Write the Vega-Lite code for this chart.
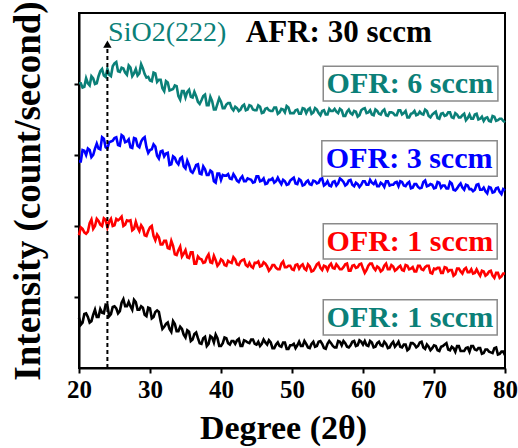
{
"$schema": "https://vega.github.io/schema/vega-lite/v6.json",
"width": 426, "height": 355,
"autosize": {"type": "none"},
"padding": {"left": 79, "top": 13, "right": 13, "bottom": 80},
"config": {"view": {"stroke": "black", "strokeWidth": 2}, "font": "serif"},
"datasets": {
"teal": [
{"x":20,"y":4.01},{"x":20.5,"y":3.95},{"x":21,"y":4.08},{"x":21.5,"y":3.98},{"x":22,"y":4.08},{"x":22.5,"y":4.01},{"x":23,"y":4.18},{"x":23.5,"y":4.12},{"x":24,"y":4.21},{"x":24.5,"y":4.11},
{"x":25,"y":4.29},{"x":25.5,"y":4.18},{"x":26,"y":4.23},{"x":26.5,"y":4.16},{"x":27,"y":4.26},{"x":27.5,"y":4.11},{"x":28,"y":4.21},{"x":28.5,"y":4.15},{"x":29,"y":4.22},{"x":29.5,"y":4.09},
{"x":30,"y":4.05},{"x":30.5,"y":4.16},{"x":31,"y":4.03},{"x":31.5,"y":4.06},{"x":32,"y":3.90},{"x":32.5,"y":4.02},{"x":33,"y":3.92},{"x":33.5,"y":3.98},{"x":34,"y":3.83},{"x":34.5,"y":3.90},
{"x":35,"y":3.81},{"x":35.5,"y":3.92},{"x":36,"y":3.81},{"x":36.5,"y":3.83},{"x":37,"y":3.72},{"x":37.5,"y":3.83},{"x":38,"y":3.70},{"x":38.5,"y":3.82},{"x":39,"y":3.64},{"x":39.5,"y":3.72},
{"x":40,"y":3.75},{"x":40.5,"y":3.66},{"x":41,"y":3.73},{"x":41.5,"y":3.66},{"x":42,"y":3.68},{"x":42.5,"y":3.62},{"x":43,"y":3.69},{"x":43.5,"y":3.63},{"x":44,"y":3.70},{"x":44.5,"y":3.64},
{"x":45,"y":3.63},{"x":45.5,"y":3.68},{"x":46,"y":3.60},{"x":46.5,"y":3.66},{"x":47,"y":3.62},{"x":47.5,"y":3.67},{"x":48,"y":3.58},{"x":48.5,"y":3.65},{"x":49,"y":3.60},{"x":49.5,"y":3.67},
{"x":50,"y":3.59},{"x":50.5,"y":3.63},{"x":51,"y":3.58},{"x":51.5,"y":3.66},{"x":52,"y":3.59},{"x":52.5,"y":3.66},{"x":53,"y":3.60},{"x":53.5,"y":3.64},{"x":54,"y":3.56},{"x":54.5,"y":3.63},
{"x":55,"y":3.57},{"x":55.5,"y":3.62},{"x":56,"y":3.65},{"x":56.5,"y":3.59},{"x":57,"y":3.63},{"x":57.5,"y":3.55},{"x":58,"y":3.64},{"x":58.5,"y":3.57},{"x":59,"y":3.61},{"x":59.5,"y":3.56},
{"x":60,"y":3.65},{"x":60.5,"y":3.59},{"x":61,"y":3.63},{"x":61.5,"y":3.56},{"x":62,"y":3.62},{"x":62.5,"y":3.57},{"x":63,"y":3.64},{"x":63.5,"y":3.55},{"x":64,"y":3.60},{"x":64.5,"y":3.56},
{"x":65,"y":3.63},{"x":65.5,"y":3.57},{"x":66,"y":3.62},{"x":66.5,"y":3.53},{"x":67,"y":3.59},{"x":67.5,"y":3.56},{"x":68,"y":3.61},{"x":68.5,"y":3.57},{"x":69,"y":3.62},{"x":69.5,"y":3.53},
{"x":70,"y":3.59},{"x":70.5,"y":3.52},{"x":71,"y":3.58},{"x":71.5,"y":3.55},{"x":72,"y":3.60},{"x":72.5,"y":3.53},{"x":73,"y":3.59},{"x":73.5,"y":3.53},{"x":74,"y":3.56},{"x":74.5,"y":3.49},
{"x":75,"y":3.57},{"x":75.5,"y":3.51},{"x":76,"y":3.58},{"x":76.5,"y":3.51},{"x":77,"y":3.48},{"x":77.5,"y":3.53},{"x":78,"y":3.47},{"x":78.5,"y":3.54},{"x":79,"y":3.49},{"x":79.5,"y":3.51},
{"x":80,"y":3.46},
{"x":20.25,"y":4.01},{"x":20.75,"y":3.96},{"x":21.25,"y":4.01},{"x":21.75,"y":4.11},{"x":22.25,"y":4.00},{"x":22.75,"y":4.11},{"x":23.25,"y":4.21},{"x":23.75,"y":4.10},{"x":24.25,"y":4.13},{"x":24.75,"y":4.25},
{"x":25.25,"y":4.31},{"x":25.75,"y":4.17},{"x":26.25,"y":4.22},{"x":26.75,"y":4.13},{"x":27.25,"y":4.23},{"x":27.75,"y":4.15},{"x":28.25,"y":4.12},{"x":28.75,"y":4.28},{"x":29.25,"y":4.14},{"x":29.75,"y":4.10},
{"x":30.25,"y":4.04},{"x":30.75,"y":4.15},{"x":31.25,"y":4.06},{"x":31.75,"y":3.94},{"x":32.25,"y":4.04},{"x":32.75,"y":3.91},{"x":33.25,"y":3.93},{"x":33.75,"y":3.97},{"x":34.25,"y":3.78},{"x":34.75,"y":3.90},
{"x":35.25,"y":3.89},{"x":35.75,"y":3.82},{"x":36.25,"y":3.89},{"x":36.75,"y":3.75},{"x":37.25,"y":3.77},{"x":37.75,"y":3.85},{"x":38.25,"y":3.70},{"x":38.75,"y":3.76},{"x":39.25,"y":3.64},{"x":39.75,"y":3.80},
{"x":40.25,"y":3.66},{"x":40.75,"y":3.71},{"x":41.25,"y":3.73},{"x":41.75,"y":3.63},{"x":42.25,"y":3.66},{"x":42.75,"y":3.64},{"x":43.25,"y":3.71},{"x":43.75,"y":3.64},{"x":44.25,"y":3.69},{"x":44.75,"y":3.63},
{"x":45.25,"y":3.70},{"x":45.75,"y":3.59},{"x":46.25,"y":3.65},{"x":46.75,"y":3.63},{"x":47.25,"y":3.62},{"x":47.75,"y":3.67},{"x":48.25,"y":3.60},{"x":48.75,"y":3.64},{"x":49.25,"y":3.69},{"x":49.75,"y":3.59},
{"x":50.25,"y":3.59},{"x":50.75,"y":3.64},{"x":51.25,"y":3.58},{"x":51.75,"y":3.65},{"x":52.25,"y":3.64},{"x":52.75,"y":3.58},{"x":53.25,"y":3.66},{"x":53.75,"y":3.59},{"x":54.25,"y":3.62},{"x":54.75,"y":3.57},
{"x":55.25,"y":3.65},{"x":55.75,"y":3.62},{"x":56.25,"y":3.61},{"x":56.75,"y":3.65},{"x":57.25,"y":3.55},{"x":57.75,"y":3.61},{"x":58.25,"y":3.59},{"x":58.75,"y":3.62},{"x":59.25,"y":3.54},{"x":59.75,"y":3.63},
{"x":60.25,"y":3.66},{"x":60.75,"y":3.60},{"x":61.25,"y":3.57},{"x":61.75,"y":3.64},{"x":62.25,"y":3.58},{"x":62.75,"y":3.62},{"x":63.25,"y":3.56},{"x":63.75,"y":3.60},{"x":64.25,"y":3.59},{"x":64.75,"y":3.56},
{"x":65.25,"y":3.63},{"x":65.75,"y":3.59},{"x":66.25,"y":3.53},{"x":66.75,"y":3.58},{"x":67.25,"y":3.62},{"x":67.75,"y":3.57},{"x":68.25,"y":3.58},{"x":68.75,"y":3.64},{"x":69.25,"y":3.55},{"x":69.75,"y":3.57},
{"x":70.25,"y":3.61},{"x":70.75,"y":3.51},{"x":71.25,"y":3.59},{"x":71.75,"y":3.56},{"x":72.25,"y":3.60},{"x":72.75,"y":3.52},{"x":73.25,"y":3.57},{"x":73.75,"y":3.53},{"x":74.25,"y":3.58},{"x":74.75,"y":3.52},
{"x":75.25,"y":3.51},{"x":75.75,"y":3.57},{"x":76.25,"y":3.50},{"x":76.75,"y":3.54},{"x":77.25,"y":3.52},{"x":77.75,"y":3.48},{"x":78.25,"y":3.55},{"x":78.75,"y":3.48},{"x":79.25,"y":3.51},{"x":79.75,"y":3.48}],
"blue": [
{"x":20,"y":2.91},{"x":20.5,"y":3.07},{"x":21,"y":3.00},{"x":21.5,"y":3.07},{"x":22,"y":3.00},{"x":22.5,"y":3.16},{"x":23,"y":3.08},{"x":23.5,"y":3.23},{"x":24,"y":3.09},{"x":24.5,"y":3.19},
{"x":25,"y":3.24},{"x":25.5,"y":3.14},{"x":26,"y":3.28},{"x":26.5,"y":3.18},{"x":27,"y":3.22},{"x":27.5,"y":3.10},{"x":28,"y":3.23},{"x":28.5,"y":3.11},{"x":29,"y":3.23},{"x":29.5,"y":3.11},
{"x":30,"y":3.07},{"x":30.5,"y":3.15},{"x":31,"y":2.99},{"x":31.5,"y":3.05},{"x":32,"y":2.98},{"x":32.5,"y":3.03},{"x":33,"y":2.87},{"x":33.5,"y":2.96},{"x":34,"y":2.87},{"x":34.5,"y":2.97},
{"x":35,"y":2.81},{"x":35.5,"y":2.86},{"x":36,"y":2.75},{"x":36.5,"y":2.86},{"x":37,"y":2.74},{"x":37.5,"y":2.84},{"x":38,"y":2.72},{"x":38.5,"y":2.78},{"x":39,"y":2.63},{"x":39.5,"y":2.74},
{"x":40,"y":2.65},{"x":40.5,"y":2.71},{"x":41,"y":2.73},{"x":41.5,"y":2.66},{"x":42,"y":2.69},{"x":42.5,"y":2.62},{"x":43,"y":2.70},{"x":43.5,"y":2.63},{"x":44,"y":2.66},{"x":44.5,"y":2.61},
{"x":45,"y":2.70},{"x":45.5,"y":2.63},{"x":46,"y":2.67},{"x":46.5,"y":2.60},{"x":47,"y":2.65},{"x":47.5,"y":2.61},{"x":48,"y":2.68},{"x":48.5,"y":2.59},{"x":49,"y":2.63},{"x":49.5,"y":2.59},
{"x":50,"y":2.66},{"x":50.5,"y":2.60},{"x":51,"y":2.66},{"x":51.5,"y":2.57},{"x":52,"y":2.62},{"x":52.5,"y":2.59},{"x":53,"y":2.64},{"x":53.5,"y":2.60},{"x":54,"y":2.66},{"x":54.5,"y":2.57},
{"x":55,"y":2.63},{"x":55.5,"y":2.56},{"x":56,"y":2.63},{"x":56.5,"y":2.60},{"x":57,"y":2.65},{"x":57.5,"y":2.57},{"x":58,"y":2.64},{"x":58.5,"y":2.58},{"x":59,"y":2.61},{"x":59.5,"y":2.55},
{"x":60,"y":2.63},{"x":60.5,"y":2.58},{"x":61,"y":2.65},{"x":61.5,"y":2.59},{"x":62,"y":2.56},{"x":62.5,"y":2.61},{"x":63,"y":2.55},{"x":63.5,"y":2.63},{"x":64,"y":2.58},{"x":64.5,"y":2.61},
{"x":65,"y":2.56},{"x":65.5,"y":2.62},{"x":66,"y":2.56},{"x":66.5,"y":2.62},{"x":67,"y":2.54},{"x":67.5,"y":2.59},{"x":68,"y":2.53},{"x":68.5,"y":2.62},{"x":69,"y":2.56},{"x":69.5,"y":2.59},
{"x":70,"y":2.53},{"x":70.5,"y":2.62},{"x":71,"y":2.54},{"x":71.5,"y":2.57},{"x":72,"y":2.53},{"x":72.5,"y":2.60},{"x":73,"y":2.50},{"x":73.5,"y":2.57},{"x":74,"y":2.54},{"x":74.5,"y":2.58},
{"x":75,"y":2.52},{"x":75.5,"y":2.49},{"x":76,"y":2.58},{"x":76.5,"y":2.51},{"x":77,"y":2.54},{"x":77.5,"y":2.46},{"x":78,"y":2.54},{"x":78.5,"y":2.48},{"x":79,"y":2.54},{"x":79.5,"y":2.45},
{"x":80,"y":2.50},
{"x":20.25,"y":2.91},{"x":20.75,"y":3.06},{"x":21.25,"y":3.09},{"x":21.75,"y":2.97},{"x":22.25,"y":3.09},{"x":22.75,"y":3.09},{"x":23.25,"y":3.25},{"x":23.75,"y":3.11},{"x":24.25,"y":3.18},{"x":24.75,"y":3.20},
{"x":25.25,"y":3.25},{"x":25.75,"y":3.13},{"x":26.25,"y":3.26},{"x":26.75,"y":3.19},{"x":27.25,"y":3.11},{"x":27.75,"y":3.24},{"x":28.25,"y":3.13},{"x":28.75,"y":3.19},{"x":29.25,"y":3.25},{"x":29.75,"y":3.03},
{"x":30.25,"y":3.08},{"x":30.75,"y":3.12},{"x":31.25,"y":2.95},{"x":31.75,"y":3.06},{"x":32.25,"y":3.02},{"x":32.75,"y":2.86},{"x":33.25,"y":2.98},{"x":33.75,"y":2.90},{"x":34.25,"y":2.95},{"x":34.75,"y":2.84},
{"x":35.25,"y":2.92},{"x":35.75,"y":2.77},{"x":36.25,"y":2.80},{"x":36.75,"y":2.87},{"x":37.25,"y":2.73},{"x":37.75,"y":2.80},{"x":38.25,"y":2.72},{"x":38.75,"y":2.76},{"x":39.25,"y":2.61},{"x":39.75,"y":2.74},
{"x":40.25,"y":2.72},{"x":40.75,"y":2.71},{"x":41.25,"y":2.67},{"x":41.75,"y":2.73},{"x":42.25,"y":2.64},{"x":42.75,"y":2.67},{"x":43.25,"y":2.63},{"x":43.75,"y":2.67},{"x":44.25,"y":2.65},{"x":44.75,"y":2.62},
{"x":45.25,"y":2.70},{"x":45.75,"y":2.64},{"x":46.25,"y":2.59},{"x":46.75,"y":2.65},{"x":47.25,"y":2.67},{"x":47.75,"y":2.63},{"x":48.25,"y":2.63},{"x":48.75,"y":2.65},{"x":49.25,"y":2.58},{"x":49.75,"y":2.64},
{"x":50.25,"y":2.68},{"x":50.75,"y":2.59},{"x":51.25,"y":2.64},{"x":51.75,"y":2.58},{"x":52.25,"y":2.64},{"x":52.75,"y":2.58},{"x":53.25,"y":2.63},{"x":53.75,"y":2.61},{"x":54.25,"y":2.67},{"x":54.75,"y":2.59},
{"x":55.25,"y":2.57},{"x":55.75,"y":2.62},{"x":56.25,"y":2.57},{"x":56.75,"y":2.67},{"x":57.25,"y":2.62},{"x":57.75,"y":2.59},{"x":58.25,"y":2.65},{"x":58.75,"y":2.56},{"x":59.25,"y":2.59},{"x":59.75,"y":2.58},
{"x":60.25,"y":2.63},{"x":60.75,"y":2.58},{"x":61.25,"y":2.61},{"x":61.75,"y":2.63},{"x":62.25,"y":2.56},{"x":62.75,"y":2.59},{"x":63.25,"y":2.63},{"x":63.75,"y":2.57},{"x":64.25,"y":2.58},{"x":64.75,"y":2.62},
{"x":65.25,"y":2.63},{"x":65.75,"y":2.57},{"x":66.25,"y":2.60},{"x":66.75,"y":2.53},{"x":67.25,"y":2.59},{"x":67.75,"y":2.55},{"x":68.25,"y":2.54},{"x":68.75,"y":2.64},{"x":69.25,"y":2.57},{"x":69.75,"y":2.58},
{"x":70.25,"y":2.54},{"x":70.75,"y":2.61},{"x":71.25,"y":2.57},{"x":71.75,"y":2.53},{"x":72.25,"y":2.62},{"x":72.75,"y":2.51},{"x":73.25,"y":2.53},{"x":73.75,"y":2.60},{"x":74.25,"y":2.51},{"x":74.75,"y":2.57},
{"x":75.25,"y":2.52},{"x":75.75,"y":2.51},{"x":76.25,"y":2.59},{"x":76.75,"y":2.51},{"x":77.25,"y":2.49},{"x":77.75,"y":2.55},{"x":78.25,"y":2.47},{"x":78.75,"y":2.53},{"x":79.25,"y":2.48},{"x":79.75,"y":2.52}],
"red": [
{"x":20,"y":1.87},{"x":20.5,"y":1.96},{"x":21,"y":1.89},{"x":21.5,"y":2.04},{"x":22,"y":1.96},{"x":22.5,"y":2.10},{"x":23,"y":2.02},{"x":23.5,"y":2.11},{"x":24,"y":1.98},{"x":24.5,"y":2.10},
{"x":25,"y":2.01},{"x":25.5,"y":2.08},{"x":26,"y":2.13},{"x":26.5,"y":2.02},{"x":27,"y":2.07},{"x":27.5,"y":1.94},{"x":28,"y":2.06},{"x":28.5,"y":1.93},{"x":29,"y":1.97},{"x":29.5,"y":1.86},
{"x":30,"y":1.98},{"x":30.5,"y":1.86},{"x":31,"y":1.88},{"x":31.5,"y":1.74},{"x":32,"y":1.79},{"x":32.5,"y":1.69},{"x":33,"y":1.79},{"x":33.5,"y":1.60},{"x":34,"y":1.66},{"x":34.5,"y":1.57},
{"x":35,"y":1.66},{"x":35.5,"y":1.55},{"x":36,"y":1.63},{"x":36.5,"y":1.47},{"x":37,"y":1.54},{"x":37.5,"y":1.48},{"x":38,"y":1.56},{"x":38.5,"y":1.49},{"x":39,"y":1.58},{"x":39.5,"y":1.44},
{"x":40,"y":1.53},{"x":40.5,"y":1.45},{"x":41,"y":1.51},{"x":41.5,"y":1.48},{"x":42,"y":1.53},{"x":42.5,"y":1.45},{"x":43,"y":1.52},{"x":43.5,"y":1.45},{"x":44,"y":1.48},{"x":44.5,"y":1.41},
{"x":45,"y":1.48},{"x":45.5,"y":1.43},{"x":46,"y":1.49},{"x":46.5,"y":1.43},{"x":47,"y":1.40},{"x":47.5,"y":1.45},{"x":48,"y":1.39},{"x":48.5,"y":1.47},{"x":49,"y":1.42},{"x":49.5,"y":1.44},
{"x":50,"y":1.39},{"x":50.5,"y":1.45},{"x":51,"y":1.40},{"x":51.5,"y":1.46},{"x":52,"y":1.38},{"x":52.5,"y":1.43},{"x":53,"y":1.37},{"x":53.5,"y":1.46},{"x":54,"y":1.41},{"x":54.5,"y":1.44},
{"x":55,"y":1.38},{"x":55.5,"y":1.47},{"x":56,"y":1.40},{"x":56.5,"y":1.43},{"x":57,"y":1.39},{"x":57.5,"y":1.46},{"x":58,"y":1.37},{"x":58.5,"y":1.44},{"x":59,"y":1.41},{"x":59.5,"y":1.46},
{"x":60,"y":1.40},{"x":60.5,"y":1.38},{"x":61,"y":1.47},{"x":61.5,"y":1.41},{"x":62,"y":1.43},{"x":62.5,"y":1.36},{"x":63,"y":1.44},{"x":63.5,"y":1.39},{"x":64,"y":1.45},{"x":64.5,"y":1.37},
{"x":65,"y":1.42},{"x":65.5,"y":1.38},{"x":66,"y":1.45},{"x":66.5,"y":1.39},{"x":67,"y":1.42},{"x":67.5,"y":1.36},{"x":68,"y":1.44},{"x":68.5,"y":1.38},{"x":69,"y":1.44},{"x":69.5,"y":1.34},
{"x":70,"y":1.40},{"x":70.5,"y":1.41},{"x":71,"y":1.34},{"x":71.5,"y":1.42},{"x":72,"y":1.36},{"x":72.5,"y":1.38},{"x":73,"y":1.32},{"x":73.5,"y":1.40},{"x":74,"y":1.33},{"x":74.5,"y":1.41},
{"x":75,"y":1.35},{"x":75.5,"y":1.33},{"x":76,"y":1.39},{"x":76.5,"y":1.30},{"x":77,"y":1.36},{"x":77.5,"y":1.32},{"x":78,"y":1.37},{"x":78.5,"y":1.27},{"x":79,"y":1.34},{"x":79.5,"y":1.29},
{"x":80,"y":1.33},
{"x":20.25,"y":1.98},{"x":20.75,"y":1.91},{"x":21.25,"y":1.92},{"x":21.75,"y":2.09},{"x":22.25,"y":2.00},{"x":22.75,"y":2.07},{"x":23.25,"y":2.00},{"x":23.75,"y":2.09},{"x":24.25,"y":2.06},{"x":24.75,"y":2.00},
{"x":25.25,"y":2.10},{"x":25.75,"y":2.10},{"x":26.25,"y":2.00},{"x":26.75,"y":2.08},{"x":27.25,"y":2.08},{"x":27.75,"y":1.96},{"x":28.25,"y":1.98},{"x":28.75,"y":2.01},{"x":29.25,"y":1.87},{"x":29.75,"y":1.93},
{"x":30.25,"y":2.00},{"x":30.75,"y":1.80},{"x":31.25,"y":1.84},{"x":31.75,"y":1.74},{"x":32.25,"y":1.79},{"x":32.75,"y":1.68},{"x":33.25,"y":1.72},{"x":33.75,"y":1.59},{"x":34.25,"y":1.71},{"x":34.75,"y":1.61},
{"x":35.25,"y":1.56},{"x":35.75,"y":1.63},{"x":36.25,"y":1.47},{"x":36.75,"y":1.57},{"x":37.25,"y":1.53},{"x":37.75,"y":1.49},{"x":38.25,"y":1.60},{"x":38.75,"y":1.48},{"x":39.25,"y":1.52},{"x":39.75,"y":1.47},
{"x":40.25,"y":1.51},{"x":40.75,"y":1.44},{"x":41.25,"y":1.49},{"x":41.75,"y":1.56},{"x":42.25,"y":1.46},{"x":42.75,"y":1.50},{"x":43.25,"y":1.53},{"x":43.75,"y":1.43},{"x":44.25,"y":1.43},{"x":44.75,"y":1.48},
{"x":45.25,"y":1.50},{"x":45.75,"y":1.44},{"x":46.25,"y":1.47},{"x":46.75,"y":1.37},{"x":47.25,"y":1.45},{"x":47.75,"y":1.41},{"x":48.25,"y":1.39},{"x":48.75,"y":1.50},{"x":49.25,"y":1.42},{"x":49.75,"y":1.44},
{"x":50.25,"y":1.38},{"x":50.75,"y":1.46},{"x":51.25,"y":1.44},{"x":51.75,"y":1.40},{"x":52.25,"y":1.46},{"x":52.75,"y":1.36},{"x":53.25,"y":1.41},{"x":53.75,"y":1.48},{"x":54.25,"y":1.38},{"x":54.75,"y":1.43},
{"x":55.25,"y":1.44},{"x":55.75,"y":1.41},{"x":56.25,"y":1.46},{"x":56.75,"y":1.39},{"x":57.25,"y":1.42},{"x":57.75,"y":1.47},{"x":58.25,"y":1.37},{"x":58.75,"y":1.45},{"x":59.25,"y":1.42},{"x":59.75,"y":1.47},
{"x":60.25,"y":1.34},{"x":60.75,"y":1.44},{"x":61.25,"y":1.47},{"x":61.75,"y":1.38},{"x":62.25,"y":1.41},{"x":62.75,"y":1.38},{"x":63.25,"y":1.47},{"x":63.75,"y":1.39},{"x":64.25,"y":1.43},{"x":64.75,"y":1.39},
{"x":65.25,"y":1.44},{"x":65.75,"y":1.37},{"x":66.25,"y":1.44},{"x":66.75,"y":1.40},{"x":67.25,"y":1.36},{"x":67.75,"y":1.44},{"x":68.25,"y":1.39},{"x":68.75,"y":1.42},{"x":69.25,"y":1.44},{"x":69.75,"y":1.33},
{"x":70.25,"y":1.39},{"x":70.75,"y":1.41},{"x":71.25,"y":1.34},{"x":71.75,"y":1.41},{"x":72.25,"y":1.38},{"x":72.75,"y":1.30},{"x":73.25,"y":1.40},{"x":73.75,"y":1.36},{"x":74.25,"y":1.39},{"x":74.75,"y":1.35},
{"x":75.25,"y":1.39},{"x":75.75,"y":1.34},{"x":76.25,"y":1.34},{"x":76.75,"y":1.37},{"x":77.25,"y":1.30},{"x":77.75,"y":1.36},{"x":78.25,"y":1.30},{"x":78.75,"y":1.34},{"x":79.25,"y":1.27},{"x":79.75,"y":1.33}],
"black": [
{"x":20,"y":0.71},{"x":20.5,"y":0.64},{"x":21,"y":0.77},{"x":21.5,"y":0.64},{"x":22,"y":0.75},{"x":22.5,"y":0.72},{"x":23,"y":0.83},{"x":23.5,"y":0.77},{"x":24,"y":0.88},{"x":24.5,"y":0.76},
{"x":25,"y":0.87},{"x":25.5,"y":0.77},{"x":26,"y":0.92},{"x":26.5,"y":0.87},{"x":27,"y":0.93},{"x":27.5,"y":0.82},{"x":28,"y":0.93},{"x":28.5,"y":0.82},{"x":29,"y":0.85},{"x":29.5,"y":0.73},
{"x":30,"y":0.84},{"x":30.5,"y":0.72},{"x":31,"y":0.81},{"x":31.5,"y":0.66},{"x":32,"y":0.58},{"x":32.5,"y":0.64},{"x":33,"y":0.51},{"x":33.5,"y":0.62},{"x":34,"y":0.52},{"x":34.5,"y":0.55},
{"x":35,"y":0.43},{"x":35.5,"y":0.51},{"x":36,"y":0.40},{"x":36.5,"y":0.50},{"x":37,"y":0.35},{"x":37.5,"y":0.42},{"x":38,"y":0.31},{"x":38.5,"y":0.45},{"x":39,"y":0.36},{"x":39.5,"y":0.42},
{"x":40,"y":0.31},{"x":40.5,"y":0.43},{"x":41,"y":0.35},{"x":41.5,"y":0.38},{"x":42,"y":0.34},{"x":42.5,"y":0.41},{"x":43,"y":0.31},{"x":43.5,"y":0.38},{"x":44,"y":0.35},{"x":44.5,"y":0.40},
{"x":45,"y":0.33},{"x":45.5,"y":0.31},{"x":46,"y":0.40},{"x":46.5,"y":0.33},{"x":47,"y":0.36},{"x":47.5,"y":0.28},{"x":48,"y":0.36},{"x":48.5,"y":0.30},{"x":49,"y":0.36},{"x":49.5,"y":0.27},
{"x":50,"y":0.32},{"x":50.5,"y":0.28},{"x":51,"y":0.37},{"x":51.5,"y":0.31},{"x":52,"y":0.34},{"x":52.5,"y":0.28},{"x":53,"y":0.37},{"x":53.5,"y":0.31},{"x":54,"y":0.38},{"x":54.5,"y":0.28},
{"x":55,"y":0.34},{"x":55.5,"y":0.35},{"x":56,"y":0.29},{"x":56.5,"y":0.38},{"x":57,"y":0.32},{"x":57.5,"y":0.35},{"x":58,"y":0.29},{"x":58.5,"y":0.37},{"x":59,"y":0.31},{"x":59.5,"y":0.39},
{"x":60,"y":0.33},{"x":60.5,"y":0.32},{"x":61,"y":0.38},{"x":61.5,"y":0.29},{"x":62,"y":0.35},{"x":62.5,"y":0.32},{"x":63,"y":0.37},{"x":63.5,"y":0.28},{"x":64,"y":0.34},{"x":64.5,"y":0.30},
{"x":65,"y":0.37},{"x":65.5,"y":0.29},{"x":66,"y":0.33},{"x":66.5,"y":0.27},{"x":67,"y":0.35},{"x":67.5,"y":0.29},{"x":68,"y":0.36},{"x":68.5,"y":0.29},{"x":69,"y":0.33},{"x":69.5,"y":0.25},
{"x":70,"y":0.32},{"x":70.5,"y":0.25},{"x":71,"y":0.30},{"x":71.5,"y":0.33},{"x":72,"y":0.26},{"x":72.5,"y":0.30},{"x":73,"y":0.23},{"x":73.5,"y":0.31},{"x":74,"y":0.24},{"x":74.5,"y":0.28},
{"x":75,"y":0.23},{"x":75.5,"y":0.31},{"x":76,"y":0.25},{"x":76.5,"y":0.28},{"x":77,"y":0.21},{"x":77.5,"y":0.26},{"x":78,"y":0.22},{"x":78.5,"y":0.28},{"x":79,"y":0.19},{"x":79.5,"y":0.23},
{"x":80,"y":0.18},
{"x":20.25,"y":0.61},{"x":20.75,"y":0.76},{"x":21.25,"y":0.72},{"x":21.75,"y":0.66},{"x":22.25,"y":0.82},{"x":22.75,"y":0.72},{"x":23.25,"y":0.78},{"x":23.75,"y":0.89},{"x":24.25,"y":0.73},{"x":24.75,"y":0.86},
{"x":25.25,"y":0.84},{"x":25.75,"y":0.80},{"x":26.25,"y":0.97},{"x":26.75,"y":0.87},{"x":27.25,"y":0.87},{"x":27.75,"y":0.96},{"x":28.25,"y":0.82},{"x":28.75,"y":0.87},{"x":29.25,"y":0.75},{"x":29.75,"y":0.85},
{"x":30.25,"y":0.70},{"x":30.75,"y":0.79},{"x":31.25,"y":0.79},{"x":31.75,"y":0.55},{"x":32.25,"y":0.62},{"x":32.75,"y":0.55},{"x":33.25,"y":0.66},{"x":33.75,"y":0.52},{"x":34.25,"y":0.58},{"x":34.75,"y":0.47},
{"x":35.25,"y":0.53},{"x":35.75,"y":0.38},{"x":36.25,"y":0.48},{"x":36.75,"y":0.42},{"x":37.25,"y":0.34},{"x":37.75,"y":0.44},{"x":38.25,"y":0.34},{"x":38.75,"y":0.43},{"x":39.25,"y":0.47},{"x":39.75,"y":0.31},
{"x":40.25,"y":0.35},{"x":40.75,"y":0.42},{"x":41.25,"y":0.33},{"x":41.75,"y":0.38},{"x":42.25,"y":0.39},{"x":42.75,"y":0.31},{"x":43.25,"y":0.39},{"x":43.75,"y":0.36},{"x":44.25,"y":0.40},{"x":44.75,"y":0.34},
{"x":45.25,"y":0.37},{"x":45.75,"y":0.34},{"x":46.25,"y":0.36},{"x":46.75,"y":0.39},{"x":47.25,"y":0.28},{"x":47.75,"y":0.33},{"x":48.25,"y":0.31},{"x":48.75,"y":0.36},{"x":49.25,"y":0.27},{"x":49.75,"y":0.32},
{"x":50.25,"y":0.34},{"x":50.75,"y":0.32},{"x":51.25,"y":0.31},{"x":51.75,"y":0.38},{"x":52.25,"y":0.29},{"x":52.75,"y":0.34},{"x":53.25,"y":0.30},{"x":53.75,"y":0.37},{"x":54.25,"y":0.34},{"x":54.75,"y":0.27},
{"x":55.25,"y":0.38},{"x":55.75,"y":0.31},{"x":56.25,"y":0.29},{"x":56.75,"y":0.37},{"x":57.25,"y":0.38},{"x":57.75,"y":0.30},{"x":58.25,"y":0.32},{"x":58.75,"y":0.38},{"x":59.25,"y":0.32},{"x":59.75,"y":0.37},
{"x":60.25,"y":0.38},{"x":60.75,"y":0.31},{"x":61.25,"y":0.36},{"x":61.75,"y":0.30},{"x":62.25,"y":0.37},{"x":62.75,"y":0.31},{"x":63.25,"y":0.34},{"x":63.75,"y":0.29},{"x":64.25,"y":0.37},{"x":64.75,"y":0.33},
{"x":65.25,"y":0.30},{"x":65.75,"y":0.33},{"x":66.25,"y":0.25},{"x":66.75,"y":0.35},{"x":67.25,"y":0.33},{"x":67.75,"y":0.31},{"x":68.25,"y":0.37},{"x":68.75,"y":0.27},{"x":69.25,"y":0.30},{"x":69.75,"y":0.28},
{"x":70.25,"y":0.31},{"x":70.75,"y":0.24},{"x":71.25,"y":0.31},{"x":71.75,"y":0.35},{"x":72.25,"y":0.25},{"x":72.75,"y":0.28},{"x":73.25,"y":0.31},{"x":73.75,"y":0.24},{"x":74.25,"y":0.24},{"x":74.75,"y":0.29},
{"x":75.25,"y":0.31},{"x":75.75,"y":0.26},{"x":76.25,"y":0.28},{"x":76.75,"y":0.20},{"x":77.25,"y":0.26},{"x":77.75,"y":0.23},{"x":78.25,"y":0.21},{"x":78.75,"y":0.29},{"x":79.25,"y":0.20},{"x":79.75,"y":0.23}],
"boxes": [
{"x":54.4,"x2":79.0,"y":3.76,"y2":4.25,"label":"OFR: 6 sccm","series":"teal","tx":66.6,"ty":4.0},
{"x":54.2,"x2":78.9,"y":2.70,"y2":3.20,"label":"OFR: 3 sccm","series":"blue","tx":66.5,"ty":2.95},
{"x":54.4,"x2":78.9,"y":1.535,"y2":2.03,"label":"OFR: 1 sccm","series":"red","tx":66.6,"ty":1.78},
{"x":54.4,"x2":78.9,"y":0.465,"y2":0.96,"label":"OFR: 1 sccm","series":"teal","tx":66.6,"ty":0.71}
]
},
"encoding": {
"x": {"field": "x", "type": "quantitative", "scale": {"domain": [20, 80], "nice": false, "zero": false},
 "axis": {"values": [20,30,40,50,60,70,80], "title": "Degree (2θ)", "grid": false, "titleX": 204,
  "titleFont": "serif", "titleFontSize": 34, "titleFontWeight": "bold", "titleColor": "black", "titlePadding": 9,
  "labelFont": "serif", "labelFontSize": 25, "labelFontWeight": "bold", "labelColor": "black", "labelPadding": 4,
  "labelFlush": false, "labelOverlap": false,
  "domainColor": "black", "domainWidth": 2, "tickColor": "black", "tickWidth": 2, "tickSize": 5}},
"y": {"field": "y", "type": "quantitative", "scale": {"domain": [0, 5], "nice": false, "zero": false},
 "axis": {"values": [1,2,3,4], "labels": false, "title": "Intensity (count/second)", "grid": false,
  "titleFont": "serif", "titleFontSize": 37, "titleFontWeight": "bold", "titleColor": "black", "titlePadding": 26,
  "domainColor": "black", "domainWidth": 2, "tickColor": "black", "tickWidth": 2, "tickSize": 5}}
},
"layer": [
{"data": {"name": "black"}, "mark": {"type": "line", "color": "black", "strokeWidth": 2.6}},
{"data": {"name": "red"}, "mark": {"type": "line", "color": "#ff0000", "strokeWidth": 2.6}},
{"data": {"name": "blue"}, "mark": {"type": "line", "color": "#0000ff", "strokeWidth": 2.6}},
{"data": {"name": "teal"}, "mark": {"type": "line", "color": "#0b8078", "strokeWidth": 2.6}},
{"data": {"name": "boxes"}, "mark": {"type": "rect", "fill": "white", "stroke": "#8a8a8a", "strokeWidth": 1.5},
 "encoding": {"x2": {"field": "x2"}, "y2": {"field": "y2"}}},
{"data": {"name": "boxes"}, "mark": {"type": "text", "font": "serif", "fontSize": 30, "fontWeight": "bold", "align": "center", "baseline": "middle"},
 "encoding": {"x": {"field": "tx", "type": "quantitative"}, "y": {"field": "ty", "type": "quantitative"}, "text": {"field": "label"},
  "color": {"field": "series", "type": "nominal", "scale": {"domain": ["teal","blue","red"], "range": ["#0b8078","#0000ff","#ff0000"]}, "legend": null}}},
{"data": {"values": [{"x": 24, "y": 0, "y2": 4.56}]}, "mark": {"type": "rule", "color": "black", "strokeWidth": 2, "strokeDash": [4, 3]},
 "encoding": {"y2": {"field": "y2"}}},
{"data": {"values": [{"x": 24, "y": 4.56}]}, "mark": {"type": "point", "shape": "triangle-up", "size": 70, "filled": true, "color": "black", "opacity": 1}},
{"data": {"values": [{"x": 24.1, "y": 4.72, "label": "SiO2(222)"}]}, "mark": {"type": "text", "font": "serif", "fontSize": 28, "color": "#0b8078", "align": "left", "baseline": "middle"},
 "encoding": {"text": {"field": "label"}}},
{"data": {"values": [{"x": 43.5, "y": 4.72, "label": "AFR: 30 sccm"}]}, "mark": {"type": "text", "font": "serif", "fontSize": 31, "fontWeight": "bold", "color": "black", "align": "left", "baseline": "middle"},
 "encoding": {"text": {"field": "label"}}}
]
}
